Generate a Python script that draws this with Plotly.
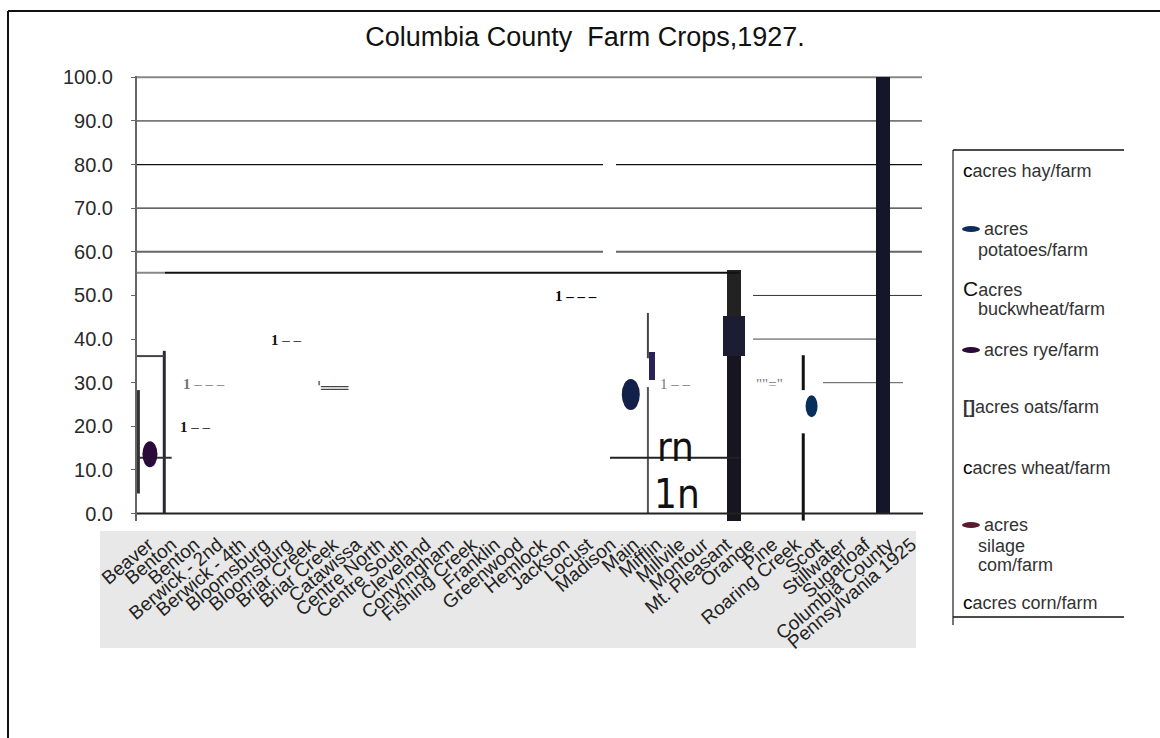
import plotly.graph_objects as go

# ---------------- data ----------------
categories = [
    "Beaver", "Benton", "Benton", "Berwick - 2nd", "Berwick - 4th",
    "Bloomsburg", "Bloomsburg", "Briar Creek", "Briar Creek", "Catawissa",
    "Centre North", "Centre South", "Cleveland", "Conynngham", "Fishing Creek",
    "Franklin", "Greenwood", "Hemlock", "Jackson", "Locust", "Madison", "Main",
    "Mifflin", "Millvile", "Montour", "Mt. Pleasant", "Orange", "Pine",
    "Roaring Creek", "Scott", "Stillwater", "Sugarloaf", "Columbia County",
    "Pennsylvania 1925",
]
y_ticks = [0, 10, 20, 30, 40, 50, 60, 70, 80, 90, 100]

# wide columns (acres/farm): position on the township axis, bottom, top
column_pos = [25.33, 31.79]
column_low = [-1.6, 0.0]
column_high = [55.9, 100.0]

# oats block sitting on the Orange column
oats_pos = [25.33]
oats_low = [36.1]
oats_high = [45.3]

# buckwheat block
buckwheat_pos = [21.78]
buckwheat_low = [30.6]
buckwheat_high = [37.0]

# thin range strokes
stroke_pos = [-0.44, 0.68, 21.6, 21.6, 28.32, 28.32]
stroke_low = [4.6, 0.0, 0.0, 35.6, -1.6, 28.3]
stroke_high = [28.3, 37.3, 29.0, 46.0, 18.4, 36.3]

# level lines: value, start, end on the township axis
level_val = [55.2, 55.2, 36.1, 12.8, 12.8]
level_from = [-0.5, 0.71, -0.5, -0.5, 19.96]
level_to = [0.71, 25.55, 0.68, 1.0, 25.6]

# point values
rye_pos = [0.06]
rye_val = [13.6]
potato_pos = [20.86, 28.68]
potato_val = [27.3, 24.6]

# stray glyph runs placed on the plot
glyph_text = ["<b>1</b> – – –", "<b>1</b> – –", "<b>1</b> – –", "'═══", "<b>1 – – –</b>", "1 – –", '""="']
glyph_pos = [2.40, 2.01, 5.98, 7.96, 18.49, 22.81, 26.88]
glyph_val = [29.8, 19.9, 39.8, 28.8, 49.9, 29.6, 29.6]
glyph_color = ["#777777", "#111111", "#111111", "#444444", "#000000", "#777777", "#777777"]

big_text = ["rn", "1n"]
big_pos = [22.81, 22.84]
big_val = [15.3, 4.6]

# legend: key mark, label lines
legend_rows = [
    ("c", ["acres hay/farm"]),
    ("potatoes", ["acres", "potatoes/farm"]),
    ("C", ["acres", "buckwheat/farm"]),
    ("rye", ["acres rye/farm"]),
    ("[]", ["acres oats/farm"]),
    ("c", ["acres wheat/farm"]),
    ("silage", ["acres", "silage", "com/farm"]),
    ("c", ["acres corn/farm"]),
]
key_colors = {"potatoes": "#0b2c5c", "rye": "#2a0a36", "silage": "#5a1a30"}

# ---------------- layout geometry (pixels) ----------------
FIG_W, FIG_H = 1160, 738
L, T, W, H = 137, 76, 786, 445
X_RANGE = [-0.5, 33.5]
Y_RANGE = [-1.7, 100.3]
UNIT_PX = W / (X_RANGE[1] - X_RANGE[0])


def paper_x(px):
    return (px - L) / W


def paper_y(py):
    return (T + H - py) / H


def u(px):
    return (px - L) / UNIT_PX + X_RANGE[0]


FONT = "Arial, Liberation Sans, sans-serif"

fig = go.Figure()

# columns
fig.add_trace(go.Bar(
    x=column_pos, y=[h - l for h, l in zip(column_high, column_low)], base=column_low,
    width=[14 / UNIT_PX] * len(column_pos),
    marker=dict(color=["#17151f", "#16162a"], line=dict(width=0)),
    showlegend=False, hoverinfo="skip",
))
# top part of the Orange column is a lighter black
fig.add_trace(go.Bar(
    x=oats_pos, y=[column_high[0] - oats_high[0]], base=oats_high,
    width=[14 / UNIT_PX], marker=dict(color="#222222", line=dict(width=0)),
    showlegend=False, hoverinfo="skip",
))
fig.add_trace(go.Bar(
    x=oats_pos, y=[h - l for h, l in zip(oats_high, oats_low)], base=oats_low,
    width=[22 / UNIT_PX] * len(oats_pos),
    marker=dict(color="#1c1c33", line=dict(width=0)),
    showlegend=False, hoverinfo="skip",
))
fig.add_trace(go.Bar(
    x=buckwheat_pos, y=[h - l for h, l in zip(buckwheat_high, buckwheat_low)], base=buckwheat_low,
    width=[6 / UNIT_PX] * len(buckwheat_pos),
    marker=dict(color="#2b2357", line=dict(width=0)),
    showlegend=False, hoverinfo="skip",
))

# thin strokes
stroke_colors = ["#333333", "#2a2a35", "#555555", "#444444", "#111111", "#111111"]
stroke_widths = [3, 3, 2, 2, 3, 3]
for xp, lo, hi, c, w in zip(stroke_pos, stroke_low, stroke_high, stroke_colors, stroke_widths):
    fig.add_trace(go.Scatter(
        x=[xp, xp], y=[lo, hi], mode="lines", line=dict(color=c, width=w),
        showlegend=False, hoverinfo="skip",
    ))

# level lines
level_colors = ["#888888", "#111111", "#444444", "#333333", "#222222"]
for v, a, b, c in zip(level_val, level_from, level_to, level_colors):
    fig.add_trace(go.Scatter(
        x=[a, b], y=[v, v], mode="lines", line=dict(color=c, width=2),
        showlegend=False, hoverinfo="skip",
    ))

shapes = []

# partial gridlines
grid_segments = [
    (100, [(137, 922)], "#888888", 2),
    (90, [(137, 922)], "#111111", 1),
    (80, [(137, 603), (616, 922)], "#111111", 1.3),
    (70, [(137, 922)], "#333333", 1.3),
    (60, [(137, 603), (616, 922)], "#666666", 2),
    (50, [(753, 922)], "#333333", 1),
    (40, [(753, 879)], "#444444", 1),
    (30, [(823, 903)], "#555555", 1),
]
for val, segs, col, wid in grid_segments:
    for a, b in segs:
        shapes.append(dict(type="line", xref="x", yref="y", x0=u(a), x1=u(b), y0=val, y1=val,
                           line=dict(color=col, width=wid), layer="below"))

# x axis base line
shapes.append(dict(type="line", xref="x", yref="y", x0=X_RANGE[0], x1=X_RANGE[1], y0=0, y1=0,
                   line=dict(color="#222222", width=2), layer="above"))


# point markers (ellipses anchored at data values, sized in pixels)
def ellipse(xv, yv, w, h, color):
    return dict(type="circle", xref="x", yref="y", xsizemode="pixel", ysizemode="pixel",
                xanchor=xv, yanchor=yv, x0=-w / 2, x1=w / 2, y0=-h / 2, y1=h / 2,
                fillcolor=color, line=dict(width=0), layer="above")


for xv, yv in zip(rye_pos, rye_val):
    shapes.append(ellipse(xv, yv, 15, 26, "#2b0a3c"))
for (xv, yv), (w, h), c in zip(zip(potato_pos, potato_val), [(18, 31), (12, 22)], ["#13204a", "#082e5c"]):
    shapes.append(ellipse(xv, yv, w, h, c))

# grey band behind the township names
shapes.append(dict(type="rect", xref="paper", yref="paper",
                   x0=paper_x(100), x1=paper_x(916), y0=paper_y(648), y1=paper_y(531),
                   fillcolor="#e8e8e8", line=dict(width=0), layer="below"))

# outer frame (left and top)
shapes.append(dict(type="line", xref="paper", yref="paper", x0=paper_x(8), x1=paper_x(8),
                   y0=paper_y(11), y1=paper_y(740), line=dict(color="#111111", width=2)))
shapes.append(dict(type="line", xref="paper", yref="paper", x0=paper_x(8), x1=paper_x(1162),
                   y0=paper_y(11), y1=paper_y(11), line=dict(color="#111111", width=2)))

# legend frame
shapes.append(dict(type="line", xref="paper", yref="paper", x0=paper_x(953), x1=paper_x(953),
                   y0=paper_y(150), y1=paper_y(625), line=dict(color="#777777", width=2)))
shapes.append(dict(type="line", xref="paper", yref="paper", x0=paper_x(953), x1=paper_x(1124),
                   y0=paper_y(150), y1=paper_y(150), line=dict(color="#111111", width=1.5)))
shapes.append(dict(type="line", xref="paper", yref="paper", x0=paper_x(953), x1=paper_x(1124),
                   y0=paper_y(617), y1=paper_y(617), line=dict(color="#111111", width=1.5)))

annotations = []

# stray glyph runs
for t, xv, yv, c in zip(glyph_text, glyph_pos, glyph_val, glyph_color):
    fam = "DejaVu Sans, sans-serif" if "═" in t else "Liberation Serif, Times New Roman, serif"
    annotations.append(dict(text=t, x=xv, y=yv, xref="x", yref="y", showarrow=False,
                            xanchor="center", yanchor="middle",
                            font=dict(family=fam, size=15, color=c)))
for t, xv, yv in zip(big_text, big_pos, big_val):
    annotations.append(dict(text=t, x=xv, y=yv, xref="x", yref="y", showarrow=False,
                            xanchor="center", yanchor="middle",
                            font=dict(family="DejaVu Sans Condensed, Liberation Sans Narrow, Arial", size=40,
                                      color="#111111")))

# legend rows: first-line centre y for each row
row_first_y = [170, 229, 288, 350, 407, 467, 525, 602]
LINE_STEP = 20
LEG_FONT = dict(family=FONT, size=18, color="#333333")


def legend_text(text, px, py):
    annotations.append(dict(text=text, x=paper_x(px), y=paper_y(py), xref="paper", yref="paper",
                            showarrow=False, xanchor="left", yanchor="middle", font=LEG_FONT))


for (key, lines), y0 in zip(legend_rows, row_first_y):
    if key in key_colors:
        shapes.append(dict(type="circle", xref="paper", yref="paper",
                           x0=paper_x(962), x1=paper_x(980), y0=paper_y(y0 + 3), y1=paper_y(y0 - 3),
                           fillcolor=key_colors[key], line=dict(width=0)))
        legend_text(lines[0], 982, y0)
    elif key == "[]":
        legend_text("<b>[]</b>" + lines[0], 961, y0)
    elif key == "C":
        legend_text("<span style='font-size:21px;color:#111'>C</span>" + lines[0], 961, y0)
    else:
        legend_text("<span style='font-size:19px;color:#000'>c</span>" + lines[0], 961, y0)
    for k, extra in enumerate(lines[1:], start=1):
        legend_text(extra, 976, y0 + LINE_STEP * k + (1 if k == 1 else 0))

fig.update_layout(
    width=FIG_W, height=FIG_H,
    margin=dict(l=L, r=FIG_W - L - W, t=T, b=FIG_H - T - H, pad=0),
    paper_bgcolor="white", plot_bgcolor="white",
    barmode="overlay", bargap=0,
    showlegend=False,
    title=dict(text="Columbia County  Farm Crops,1927.", x=585 / FIG_W, xanchor="center",
               y=1 - 37 / FIG_H, yanchor="middle",
               font=dict(family=FONT, size=27, color="#111111")),
    xaxis=dict(range=X_RANGE, tickmode="array", tickvals=list(range(len(categories))),
               ticktext=categories, tickangle=-40, showgrid=False, zeroline=False,
               showline=False, ticks="", ticklabelstandoff=8,
               tickfont=dict(family=FONT, size=19, color="#222222")),
    yaxis=dict(range=Y_RANGE, tickmode="array", tickvals=y_ticks,
               ticktext=[f"{v:.1f}" for v in y_ticks], showgrid=False, zeroline=False,
               showline=True, linecolor="#666666", linewidth=2, ticks="outside",
               ticklen=4, tickcolor="#666666", ticklabelstandoff=14,
               tickfont=dict(family=FONT, size=20, color="#2a2a2a")),
    shapes=shapes, annotations=annotations,
)

fig.write_html("out.html")
